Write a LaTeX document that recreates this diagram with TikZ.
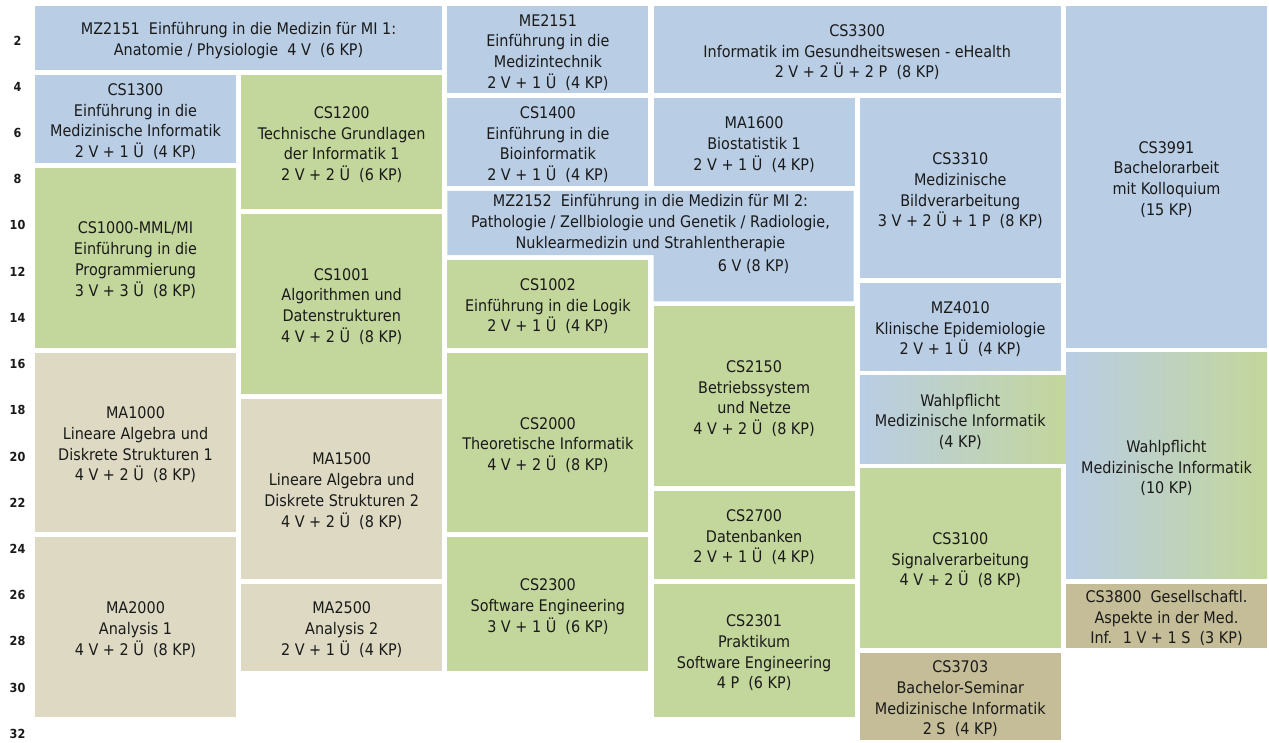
\documentclass[tikz,border=0pt]{standalone}
\usepackage{fontspec}
\setmainfont{DejaVu Sans Condensed}
\definecolor{cblue}{HTML}{B9CDE5}
\definecolor{cgreen}{HTML}{C3D69B}
\definecolor{cbeige}{HTML}{DDD9C3}
\definecolor{ctan}{HTML}{C4BD97}
\definecolor{ctext}{HTML}{1A1A1A}
\newcommand\modbox[7]{%
 \pgfmathsetmacro\mbX{35+#2*206.2}%
 \pgfmathsetmacro\mbY{6+#3*23.1}%
 \pgfmathsetmacro\mbW{#5*206.2-5.2}%
 \pgfmathsetmacro\mbH{(#4-#3)*23.1-5}%
 \node[boxshape,#6,minimum width=\mbW pt,minimum height=\mbH pt,anchor=north west] (#1) at (\mbX,\mbY) {};
 \node[modtext] (#1-t) at (#1.center) {#7};}
\begin{document}
\begin{tikzpicture}[x=1pt,y=-1pt,
  boxshape/.style={inner sep=0pt,outer sep=0pt},
  modtext/.style={inner sep=0pt,outer sep=0pt,align=center,text=ctext,yshift=-2.5pt,
    font=\fontsize{16}{20.7}\selectfont},
  blue/.style={fill=cblue},
  green/.style={fill=cgreen},
  beige/.style={fill=cbeige},
  tan/.style={fill=ctan},
  grad/.style={left color=cblue,right color=cgreen},
  lbl/.style={inner sep=0pt,text=ctext,font=\fontsize{12.5}{14}\selectfont\bfseries}]
\useasboundingbox (0,0) rectangle (1269,743);
% row labels
\foreach \n in {2,4,...,32}
  \node[lbl] (l\n) at (17.5,{6+(\n-0.5)*23.1}) {\n};
% column 1
\modbox{mz2151}{0}{0}{3}{2}{blue}{MZ2151~ Einführung in die Medizin für MI 1:\\Anatomie / Physiologie~ 4 V~ (6 KP)}
\modbox{cs1300}{0}{3}{7}{1}{blue}{CS1300\\Einführung in die\\Medizinische Informatik\\2 V + 1 Ü~ (4 KP)}
\modbox{cs1000}{0}{7}{15}{1}{green}{CS1000-MML/MI\\Einführung in die\\Programmierung\\3 V + 3 Ü~ (8 KP)}
\modbox{ma1000}{0}{15}{23}{1}{beige}{MA1000\\Lineare Algebra und\\Diskrete Strukturen 1\\4 V + 2 Ü~ (8 KP)}
\modbox{ma2000}{0}{23}{31}{1}{beige}{MA2000\\Analysis 1\\4 V + 2 Ü~ (8 KP)}
% column 2
\modbox{cs1200}{1}{3}{9}{1}{green}{CS1200\\Technische Grundlagen\\der Informatik 1\\2 V + 2 Ü~ (6 KP)}
\modbox{cs1001}{1}{9}{17}{1}{green}{CS1001\\Algorithmen und\\Datenstrukturen\\4 V + 2 Ü~ (8 KP)}
\modbox{ma1500}{1}{17}{25}{1}{beige}{MA1500\\Lineare Algebra und\\Diskrete Strukturen 2\\4 V + 2 Ü~ (8 KP)}
\modbox{ma2500}{1}{25}{29}{1}{beige}{MA2500\\Analysis 2\\2 V + 1 Ü~ (4 KP)}
% column 3
\modbox{me2151}{2}{0}{4}{1}{blue}{ME2151\\Einführung in die\\Medizintechnik\\2 V + 1 Ü~ (4 KP)}
\modbox{cs1400}{2}{4}{8}{1}{blue}{CS1400\\Einführung in die\\Bioinformatik\\2 V + 1 Ü~ (4 KP)}
\fill[cblue] (447.4,190.8) -- (853.6,190.8) -- (853.6,301.3) -- (653.6,301.3)
  -- (653.6,255.1) -- (447.4,255.1) -- cycle;
\node[modtext] (mz2152) at (650.5,220.5) {MZ2152~ Einführung in die Medizin für MI 2:\\Pathologie / Zellbiologie und Genetik / Radiologie,\\Nuklearmedizin und Strahlentherapie};
\node[modtext] (mz2152b) at (753.6,263.5) {6 V (8 KP)};
\modbox{cs1002}{2}{11}{15}{1}{green}{CS1002\\Einführung in die Logik\\2 V + 1 Ü~ (4 KP)}
\modbox{cs2000}{2}{15}{23}{1}{green}{CS2000\\Theoretische Informatik\\4 V + 2 Ü~ (8 KP)}
\modbox{cs2300}{2}{23}{29}{1}{green}{CS2300\\Software Engineering\\3 V + 1 Ü~ (6 KP)}
% column 4
\modbox{cs3300}{3}{0}{4}{2}{blue}{CS3300\\Informatik im Gesundheitswesen - eHealth\\2 V + 2 Ü + 2 P~ (8 KP)}
\modbox{ma1600}{3}{4}{8}{1}{blue}{MA1600\\Biostatistik 1\\2 V + 1 Ü~ (4 KP)}
\modbox{cs2150}{3}{13}{21}{1}{green}{CS2150\\Betriebssystem\\und Netze\\4 V + 2 Ü~ (8 KP)}
\modbox{cs2700}{3}{21}{25}{1}{green}{CS2700\\Datenbanken\\2 V + 1 Ü~ (4 KP)}
\modbox{cs2301}{3}{25}{31}{1}{green}{CS2301\\Praktikum\\Software Engineering\\4 P~ (6 KP)}
% column 5
\modbox{cs3310}{4}{4}{12}{1}{blue}{CS3310\\Medizinische\\Bildverarbeitung\\3 V + 2 Ü + 1 P~ (8 KP)}
\modbox{mz4010}{4}{12}{16}{1}{blue}{MZ4010\\Klinische Epidemiologie\\2 V + 1 Ü~ (4 KP)}
\node[boxshape,grad,minimum width=206.2pt,minimum height=87.4pt,anchor=north west] (wp4) at (859.8,375.6) {};
\node[modtext] (wp4-t) at (960.3,419.3) {Wahlpflicht\\Medizinische Informatik\\(4 KP)};
\modbox{cs3100}{4}{20}{28}{1}{green}{CS3100\\Signalverarbeitung\\4 V + 2 Ü~ (8 KP)}
\modbox{cs3703}{4}{28}{32}{1}{tan}{CS3703\\Bachelor-Seminar\\Medizinische Informatik\\2 S~ (4 KP)}
% column 6
\modbox{cs3991}{5}{0}{15}{1}{blue}{CS3991\\Bachelorarbeit\\mit Kolloquium\\(15 KP)}
\modbox{wp10}{5}{15}{25}{1}{grad}{Wahlpflicht\\Medizinische Informatik\\(10 KP)}
\modbox{cs3800}{5}{25}{28}{1}{tan}{CS3800~ Gesellschaftl.\\Aspekte in der Med.\\Inf.~ 1 V + 1 S~ (3 KP)}
\end{tikzpicture}
\end{document}
